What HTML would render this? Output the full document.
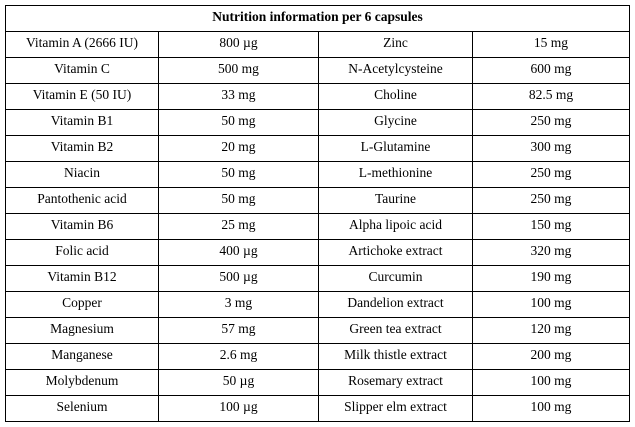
<!DOCTYPE html>
<html><head><meta charset="utf-8"><style>
body{margin:0;background:#fff;width:635px;height:427px;overflow:hidden}
table{position:absolute;left:5px;top:5px;border-collapse:collapse;table-layout:fixed;font-family:"Liberation Serif",serif;font-size:13.5px;color:#000}
td{border:1px solid #000;text-align:center;height:21px;padding:0 0 4px 0;line-height:21px;white-space:nowrap}
.t{font-weight:bold}
</style></head><body>
<table>
<colgroup><col style="width:153px"><col style="width:160px"><col style="width:154px"><col style="width:157px"></colgroup>
<tr><td class="t" colspan="4">Nutrition information per 6 capsules</td></tr>
<tr><td>Vitamin A (2666 IU)</td><td>800 µg</td><td>Zinc</td><td>15 mg</td></tr>
<tr><td>Vitamin C</td><td>500 mg</td><td>N-Acetylcysteine</td><td>600 mg</td></tr>
<tr><td>Vitamin E (50 IU)</td><td>33 mg</td><td>Choline</td><td>82.5 mg</td></tr>
<tr><td>Vitamin B1</td><td>50 mg</td><td>Glycine</td><td>250 mg</td></tr>
<tr><td>Vitamin B2</td><td>20 mg</td><td>L-Glutamine</td><td>300 mg</td></tr>
<tr><td>Niacin</td><td>50 mg</td><td>L-methionine</td><td>250 mg</td></tr>
<tr><td>Pantothenic acid</td><td>50 mg</td><td>Taurine</td><td>250 mg</td></tr>
<tr><td>Vitamin B6</td><td>25 mg</td><td>Alpha lipoic acid</td><td>150 mg</td></tr>
<tr><td>Folic acid</td><td>400 µg</td><td>Artichoke extract</td><td>320 mg</td></tr>
<tr><td>Vitamin B12</td><td>500 µg</td><td>Curcumin</td><td>190 mg</td></tr>
<tr><td>Copper</td><td>3 mg</td><td>Dandelion extract</td><td>100 mg</td></tr>
<tr><td>Magnesium</td><td>57 mg</td><td>Green tea extract</td><td>120 mg</td></tr>
<tr><td>Manganese</td><td>2.6 mg</td><td>Milk thistle extract</td><td>200 mg</td></tr>
<tr><td>Molybdenum</td><td>50 µg</td><td>Rosemary extract</td><td>100 mg</td></tr>
<tr><td>Selenium</td><td>100 µg</td><td>Slipper elm extract</td><td>100 mg</td></tr>
</table>
</body></html>
